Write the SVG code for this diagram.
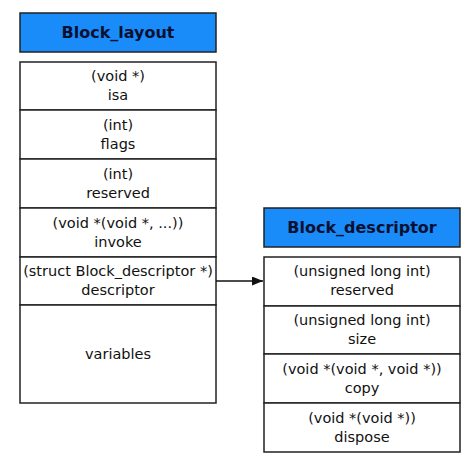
<svg xmlns="http://www.w3.org/2000/svg" width="468" height="461" viewBox="0 0 468 461">
<style>
.hdr{fill:#1a8cfa;stroke:#222;stroke-width:1.5}
.cell{fill:#fff;stroke:#222;stroke-width:1.5}
.t{font-family:"DejaVu Sans",sans-serif;font-size:14.5px;fill:#111;text-anchor:middle}
.h{font-family:"DejaVu Sans",sans-serif;font-size:16px;font-weight:bold;fill:#0a1030;text-anchor:middle}
.conn{stroke:#111;stroke-width:1.5;fill:none}
</style>
<defs>
<marker id="arr" markerWidth="12" markerHeight="10" refX="11" refY="4.5" orient="auto" markerUnits="userSpaceOnUse">
<path d="M0,0 L11,4.5 L0,9 Z" fill="#111"/>
</marker>
</defs>
<rect width="468" height="461" fill="#fff"/>
<g id="block_layout">
<rect class="hdr" x="20" y="13" width="196" height="39"/>
<text class="h" x="118" y="38">Block_layout</text>
<rect class="cell" x="20" y="62" width="196" height="48"/>
<text class="t" x="118" y="81">(void *)</text><text class="t" x="118" y="100">isa</text>
<rect class="cell" x="20" y="110" width="196" height="49"/>
<text class="t" x="118" y="130">(int)</text><text class="t" x="118" y="149">flags</text>
<rect class="cell" x="20" y="159" width="196" height="49"/>
<text class="t" x="118" y="179">(int)</text><text class="t" x="118" y="198">reserved</text>
<rect class="cell" x="20" y="208" width="196" height="49"/>
<text class="t" x="118" y="228">(void *(void *, ...))</text><text class="t" x="118" y="247">invoke</text>
<rect class="cell" x="20" y="257" width="196" height="48"/>
<text class="t" x="118" y="276">(struct Block_descriptor *)</text><text class="t" x="118" y="295">descriptor</text>
<rect class="cell" x="20" y="305" width="196" height="98"/>
<text class="t" x="118" y="359">variables</text>
</g>
<g id="block_descriptor">
<rect class="hdr" x="264" y="208" width="196" height="39"/>
<text class="h" x="362" y="233">Block_descriptor</text>
<rect class="cell" x="264" y="257" width="196" height="49"/>
<text class="t" x="362" y="276">(unsigned long int)</text><text class="t" x="362" y="295">reserved</text>
<rect class="cell" x="264" y="306" width="196" height="48"/>
<text class="t" x="362" y="325">(unsigned long int)</text><text class="t" x="362" y="344">size</text>
<rect class="cell" x="264" y="354" width="196" height="49"/>
<text class="t" x="362" y="374">(void *(void *, void *))</text><text class="t" x="362" y="393">copy</text>
<rect class="cell" x="264" y="403" width="196" height="49"/>
<text class="t" x="362" y="423">(void *(void *))</text><text class="t" x="362" y="442">dispose</text>
</g>
<g id="connectors">
<line class="conn" x1="216" y1="281" x2="263" y2="281" marker-end="url(#arr)"/>
</g>
</svg>
